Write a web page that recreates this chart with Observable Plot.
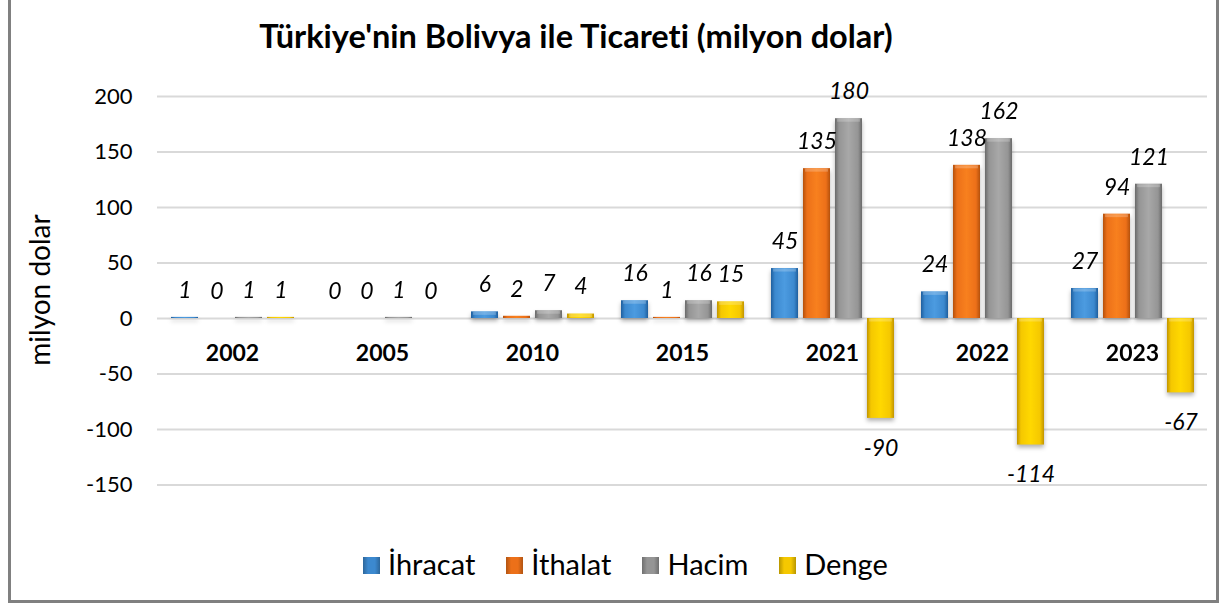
<!DOCTYPE html>
<html><head><meta charset="utf-8">
<script src="https://cdn.jsdelivr.net/npm/d3@7"></script>
<script src="https://cdn.jsdelivr.net/npm/@observablehq/plot@0.6"></script>
<style>
body{margin:0;background:#fff;font-family:Lato,"Noto Sans",sans-serif;font-variant-ligatures:none;}
#wrap{position:relative;width:1223px;height:605px;overflow:hidden;background:#fff;}
#frame{position:absolute;left:8px;top:-3px;width:1211px;height:606px;border:3px solid #808080;box-sizing:border-box;pointer-events:none;}
#chart{position:absolute;left:0;top:0;}
#title{position:absolute;left:0;width:1152px;top:20px;line-height:1;text-align:center;font-weight:bold;font-size:32.5px;color:#000;white-space:nowrap;font-variant-ligatures:none;font-feature-settings:"liga" 0;}
#ylab{position:absolute;left:39px;top:290px;transform:translate(-50%,-50%) rotate(-90deg);font-size:28px;white-space:nowrap;color:#000;}
#legend{position:absolute;left:363px;top:547px;display:flex;align-items:center;font-size:29px;color:#000;line-height:1.2;}
#legend .item{display:flex;align-items:center;margin-right:31px;}
#legend .sw{width:17px;height:17px;margin-right:8px;margin-top:3px;}
</style>
</head><body>
<svg width="0" height="0" style="position:absolute">
<defs>
<linearGradient id="g0" x1="0" x2="1" y1="0" y2="0">
<stop offset="0" stop-color="#1f5f9e"/><stop offset="0.15" stop-color="#3c89cf"/><stop offset="0.5" stop-color="#4c9be0"/><stop offset="0.85" stop-color="#3c89cf"/><stop offset="1" stop-color="#1f5f9e"/></linearGradient>
<linearGradient id="g1" x1="0" x2="1" y1="0" y2="0">
<stop offset="0" stop-color="#b5510c"/><stop offset="0.15" stop-color="#ec7019"/><stop offset="0.5" stop-color="#f8801e"/><stop offset="0.85" stop-color="#ec7019"/><stop offset="1" stop-color="#b5510c"/></linearGradient>
<linearGradient id="g2" x1="0" x2="1" y1="0" y2="0">
<stop offset="0" stop-color="#6a6a6a"/><stop offset="0.15" stop-color="#959595"/><stop offset="0.5" stop-color="#a8a8a8"/><stop offset="0.85" stop-color="#959595"/><stop offset="1" stop-color="#6a6a6a"/></linearGradient>
<linearGradient id="g3" x1="0" x2="1" y1="0" y2="0">
<stop offset="0" stop-color="#c29500"/><stop offset="0.15" stop-color="#f5c800"/><stop offset="0.5" stop-color="#ffd800"/><stop offset="0.85" stop-color="#f5c800"/><stop offset="1" stop-color="#c29500"/></linearGradient>
</defs>
</svg>
<div id="wrap">
<div id="chart"></div>
<div id="title">Türkiye'nin Bolivya ile Ticareti (milyon dolar)</div>
<div id="ylab">milyon dolar</div>
<div id="legend"></div>
<div id="frame"></div>
</div>
<script>
const years = ["2002","2005","2010","2015","2021","2022","2023"];
const series = ["İhracat","İthalat","Hacim","Denge"];
const ihracat = [1,0,6,16,45,24,27];
const ithalat = [0,0,2,1,135,138,94];
const hacim = [1,1,7,16,180,162,121];
const denge = [1,0,4,15,-90,-114,-67];
const yTicks = [-150,-100,-50,0,50,100,150,200];
const fills = ["url(#g0)","url(#g1)","url(#g2)","url(#g3)"];
const swatch = ["#3c89cf","#ec7019","#959595","#f5c800"];

const valuesBySeries = [ihracat, ithalat, hacim, denge];
const data = [];
years.forEach((yr, i) => series.forEach((s, j) => data.push({year: yr, series: s, value: valuesBySeries[j][i]})));

const barMarks = series.map((s, j) => Plot.barY(data, {
  filter: d => d.series === s, fx: "year", x: "series", y: "value", fill: fills[j], inset: 0
}));

const chart = Plot.plot({
  width: 1223, height: 605,
  marginTop: 96, marginBottom: 120.5, marginLeft: 156, marginRight: 15,
  style: {fontFamily: "Lato, 'Noto Sans', sans-serif", background: "transparent"},
  fx: {domain: years, padding: 0, axis: null},
  x: {domain: series, paddingInner: 0.17, paddingOuter: 0.4, axis: null},
  y: {domain: [-150, 200], axis: null},
  marks: [
    Plot.gridY(yTicks, {stroke: "#d9d9d9", strokeOpacity: 1, strokeWidth: 2}),
    Plot.axisY(yTicks, {tickSize: 0, tickPadding: 25, fontSize: 22, fill: "#000", label: null, tickFormat: d => String(d)}),
    ...barMarks,
    Plot.tickY(data.filter(d => Math.abs(d.value) > 3), {fx: "year", x: "series", y: d => d.value > 0 ? d.value : 0, stroke: "#fff", strokeOpacity: 0.22, strokeWidth: 3, dy: 1.5, inset: 2}),
    Plot.text(data.filter(d => d.value >= 0), {fx: "year", x: "series", y: "value", text: d => String(d.value), dy: -27, fontSize: 23, fontStyle: "italic", fill: "#000"}),
    Plot.text(data.filter(d => d.value < 0), {fx: "year", x: "series", y: "value", text: d => String(d.value), dy: 30, fontSize: 23, fontStyle: "italic", fill: "#000"}),
    Plot.text(years, {fx: d => d, y: () => 0, text: d => d, dy: 35, fontSize: 23, fontWeight: "bold", fill: "#000"})
  ]
});
document.getElementById("chart").appendChild(chart);
chart.querySelectorAll('g[aria-label="bar"]').forEach(g => g.style.filter = "drop-shadow(0px 3px 2px rgba(0,0,0,0.3))");

const leg = document.getElementById("legend");
series.forEach((s, j) => {
  const it = document.createElement("div"); it.className = "item";
  const sw = document.createElement("div"); sw.className = "sw";
  sw.style.background = `linear-gradient(90deg, rgba(0,0,0,0.25), rgba(0,0,0,0) 30%, rgba(0,0,0,0) 70%, rgba(0,0,0,0.25)), ${swatch[j]}`;
  const tx = document.createElement("span"); tx.textContent = s;
  it.appendChild(sw); it.appendChild(tx); leg.appendChild(it);
});
</script>
</body></html>
